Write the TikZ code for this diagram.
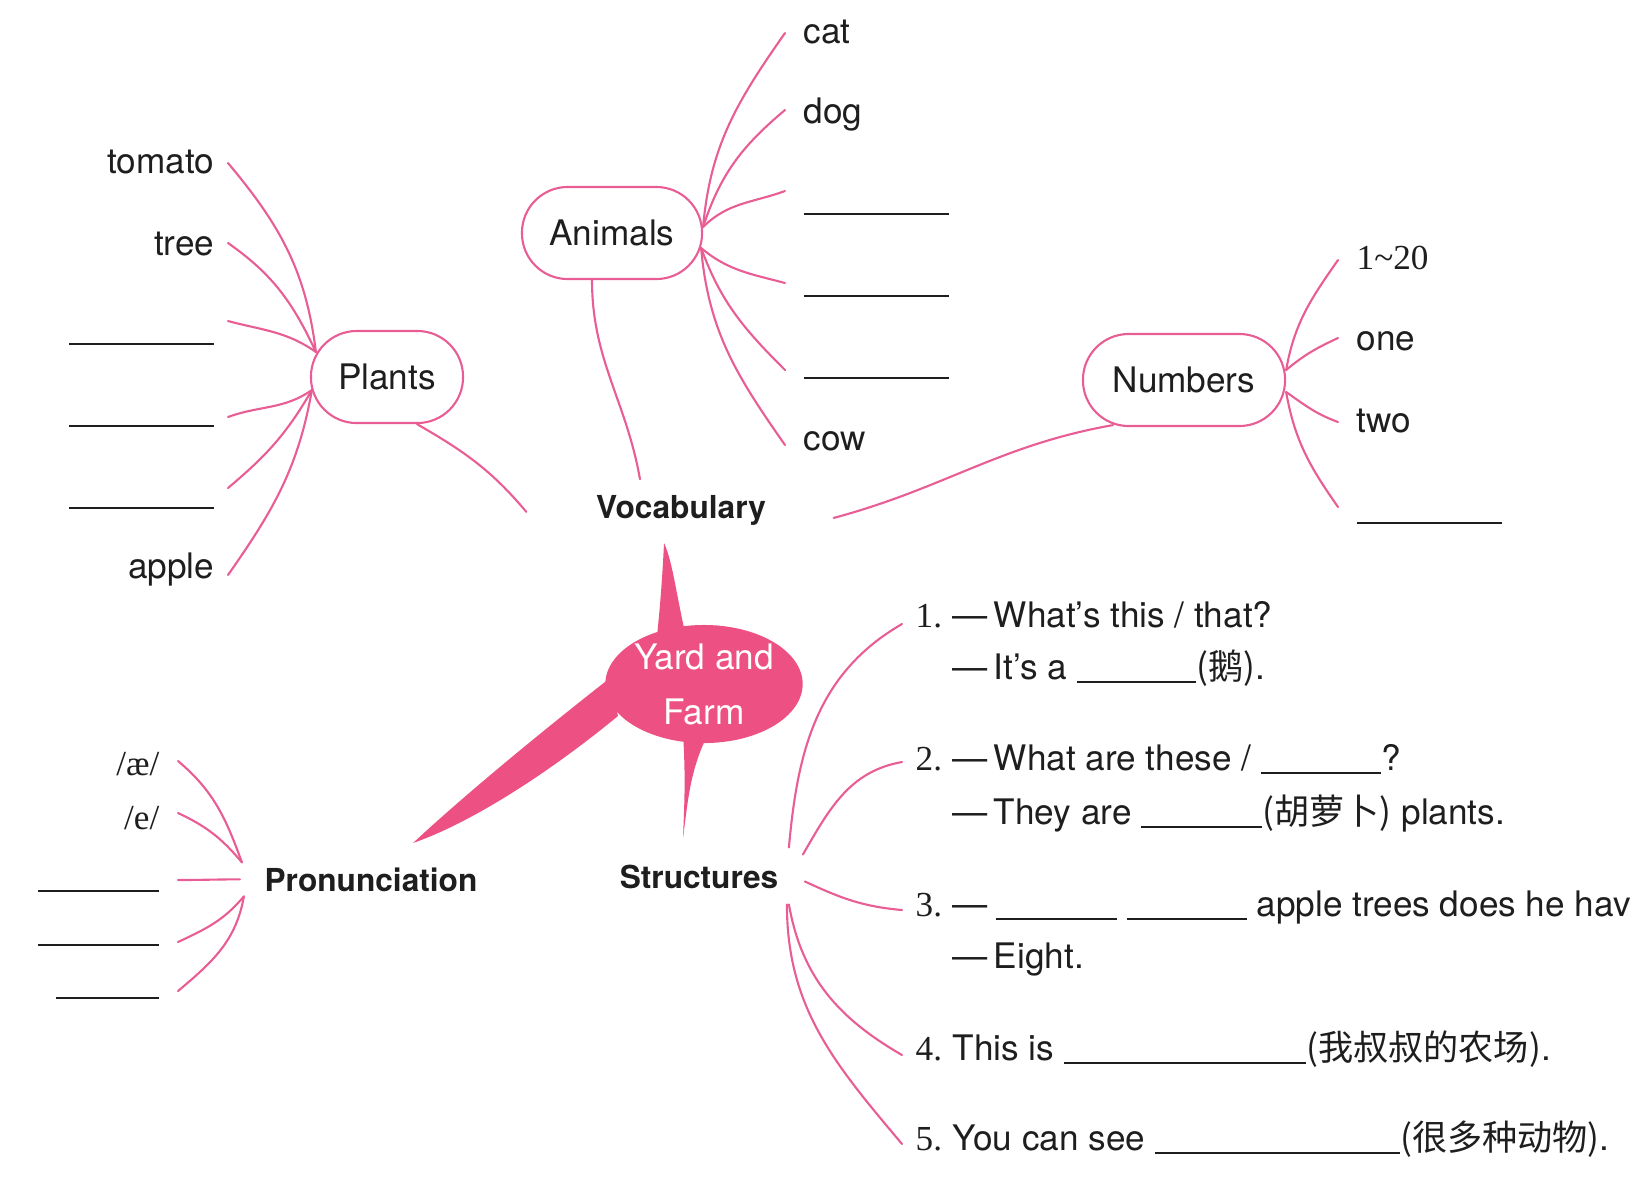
\documentclass[tikz,border=0pt]{standalone}
\usepackage{fontspec}
\setmainfont{TeX Gyre Heros}
\newfontfamily\numfont{Liberation Serif}
\newfontfamily\cjk{Noto Sans CJK SC}
\usetikzlibrary{shapes.geometric}
\definecolor{pinkline}{RGB}{232,94,148}
\definecolor{hubpink}{RGB}{237,80,130}
\definecolor{ink}{RGB}{30,30,30}
\newcommand{\gap}[1]{\rule[-1.2pt]{#1}{0.5pt}}
\newcommand{\qno}[1]{\makebox[0.37cm][l]{\numfont #1.}}

\begin{document}
\begin{tikzpicture}[x=0.01cm, y=0.01cm, line cap=round, text=ink]
    \tikzstyle{branch}=[draw=pinkline, line width=0.6pt]
    \tikzstyle{topic}=[draw=pinkline, line width=0.6pt, rounded corners=13pt, minimum height=0.92cm, inner sep=0pt, font=\fontsize{10}{12}\selectfont]
    \tikzstyle{hub}=[ellipse, fill=hubpink, text=white, minimum width=1.95cm, minimum height=1.18cm, inner sep=0pt, align=center, font=\fontsize{10}{15.6}\selectfont]
    \tikzstyle{heading}=[inner sep=0pt, font=\bfseries\fontsize{9}{11}\selectfont]
    \tikzstyle{leaf}=[inner sep=0pt, font=\fontsize{10}{12}\selectfont]
    \tikzstyle{qline}=[inner sep=0pt, anchor=base west, font=\fontsize{10}{12}\selectfont]

    \useasboundingbox (0,0) rectangle (1631,-1181);

    % centre and its three thick arms
    \node[hub] (farm) at (704,-684) {Yard and\\Farm};
    \fill[hubpink] (657,-636) .. controls (661,-598) and (663,-565) .. (664,-543)
        .. controls (673,-562) and (677,-600) .. (686,-636) -- cycle;
    \fill[hubpink] (683,-734) .. controls (686,-780) and (684,-810) .. (683,-838)
        .. controls (688,-800) and (690,-770) .. (708,-734) -- cycle;
    \fill[hubpink] (610,-678) .. controls (550,-725) and (470,-790) .. (413,-843)
        .. controls (465,-825) and (540,-780) .. (618,-716) -- cycle;

    % main headings
    \node[heading, anchor=base] (vocab) at (681,-518) {Vocabulary};
    \node[heading, anchor=base] (struct) at (699,-888) {Structures};
    \node[heading, anchor=base] (pron) at (371,-891) {Pronunciation};

    % sub topics
    \node[topic, minimum width=1.52cm] (plants) at (387,-377) {Plants};
    \node[topic, minimum width=1.80cm] (animals) at (612,-233) {Animals};
    \node[topic, minimum width=2.02cm] (numbers) at (1184,-380) {Numbers};

    \draw[branch] ([shift={(30,0)}]plants.south) to[out=-30,in=130] ([shift={(-69,-2)}]vocab.west);
    \draw[branch] ([shift={(-20,0)}]animals.south) to[out=-90,in=100] ([shift={(-41,15)}]vocab.north);
    \draw[branch] ([shift={(-71,2)}]numbers.south) to[out=190,in=15] ([shift={(67,-8)}]vocab.east);

    % Plants
    \coordinate (plants-u) at ([shift={(6,25)}]plants.west);
    \coordinate (plants-l) at ([shift={(2,-13)}]plants.west);
    \foreach \nm/\ly/\ty/\lbl/\ao/\ai/\side in {tomato/163/173/tomato/-50/97/u,
        tree/243/255/tree/-35/115/u, b1/321/341/{\gap{1.45cm}}/-15/145/u,
        b2/417/423/{\gap{1.45cm}}/20/-145/l, b3/488/505/{\gap{1.45cm}}/40/-120/l,
        apple/575/578/apple/55/-100/l}
    {
        \node[leaf, anchor=base east] (P-\nm) at (215,-\ty) {\lbl};
        \coordinate (P-\nm-end) at (228,-\ly);
        \draw[branch] (P-\nm-end) to[out=\ao,in=\ai] (plants-\side);
    }

    % Animals
    \coordinate (animals-u) at ([shift={(0,6)}]animals.east);
    \coordinate (animals-l) at ([shift={(-2,-15)}]animals.east);
    \foreach \nm/\ly/\ty/\lbl/\ao/\ai/\side in {cat/33/43/cat/85/-125/u,
        dog/110/123/dog/72/-140/u, b1/191/211/{\gap{1.45cm}}/45/-160/u,
        b2/283/293/{\gap{1.45cm}}/-40/165/l, b3/370/375/{\gap{1.45cm}}/-70/135/l,
        cow/445/450/cow/-85/125/l}
    {
        \node[leaf, anchor=base west] (A-\nm) at (803,-\ty) {\lbl};
        \coordinate (A-\nm-end) at (785,-\ly);
        \draw[branch] (animals-\side) to[out=\ao,in=\ai] (A-\nm-end);
    }

    % Numbers
    \coordinate (numbers-u) at ([shift={(0,10)}]numbers.east);
    \coordinate (numbers-l) at ([shift={(0,-12)}]numbers.east);
    \foreach \nm/\ly/\ty/\lbl/\ao/\ai/\side in {range/260/269/{\numfont 1\textasciitilde20}/80/-125/u,
        one/338/350/one/40/-155/u, two/422/432/two/-35/160/l,
        b1/507/520/{\gap{1.45cm}}/-80/125/l}
    {
        \node[leaf, anchor=base west] (N-\nm) at (1356,-\ty) {\lbl};
        \coordinate (N-\nm-end) at (1338,-\ly);
        \draw[branch] (numbers-\side) to[out=\ao,in=\ai] (N-\nm-end);
    }

    % Pronunciation
    \coordinate (pron-u) at ([shift={(-22,17)}]pron.west);
    \coordinate (pron-m) at ([shift={(-24,0)}]pron.west);
    \coordinate (pron-l) at ([shift={(-20,-17)}]pron.west);
    \foreach \nm/\ly/\ty/\lbl/\ao/\ai/\side in {ae/761/775/{\numfont /æ/}/-40/110/u,
        e/813/829/{\numfont /e/}/-25/130/u, b1/880/888/{\gap{1.21cm}}/0/180/m,
        b2/942/942/{\gap{1.21cm}}/25/-130/l, b3/991/995/{\gap{1.03cm}}/40/-100/l}
    {
        \node[leaf, anchor=base east] (R-\nm) at (160,-\ty) {\lbl};
        \coordinate (R-\nm-end) at (178,-\ly);
        \draw[branch] (R-\nm-end) to[out=\ao,in=\ai] (pron-\side);
    }

    % Structures
    \node[qline] (S-1) at (915,-627) {\qno{1}—\hspace{0.06cm}What’s this / that?};
    \node[qline] (S-1b) at (915,-679) {\hspace{0.37cm}—\hspace{0.06cm}It’s a \gap{1.19cm}{\cjk(鹅)}.};
    \node[qline] (S-2) at (915,-770) {\qno{2}—\hspace{0.06cm}What are these / \gap{1.2cm}?};
    \node[qline] (S-2b) at (915,-824) {\hspace{0.37cm}—\hspace{0.06cm}They are \gap{1.21cm}{\cjk(胡萝卜)} plants.};
    \node[qline] (S-3) at (915,-916) {\qno{3}—\hspace{0.08cm}\gap{1.21cm} \gap{1.2cm} apple trees does he have};
    \node[qline] (S-3b) at (915,-968) {\hspace{0.37cm}—\hspace{0.06cm}Eight.};
    \node[qline] (S-4) at (915,-1060) {\qno{4}This is \gap{2.42cm}{\cjk(我叔叔的农场)}.};
    \node[qline] (S-5) at (915,-1150) {\qno{5}You can see \gap{2.45cm}{\cjk(很多种动物)}.};

    \foreach \k/\sx/\sy/\ao/\ai/\ey in {1/10/29/85/210/3, 2/24/22/60/190/8,
        3/26/-5/-25/175/6, 4/10/-28/-80/150/5, 5/8/-28/-90/130/6}
        \draw[branch] ([shift={(\sx,\sy)}]struct.east) to[out=\ao,in=\ai] ([shift={(-13,\ey)}]S-\k.base west);
\end{tikzpicture}
\end{document}
